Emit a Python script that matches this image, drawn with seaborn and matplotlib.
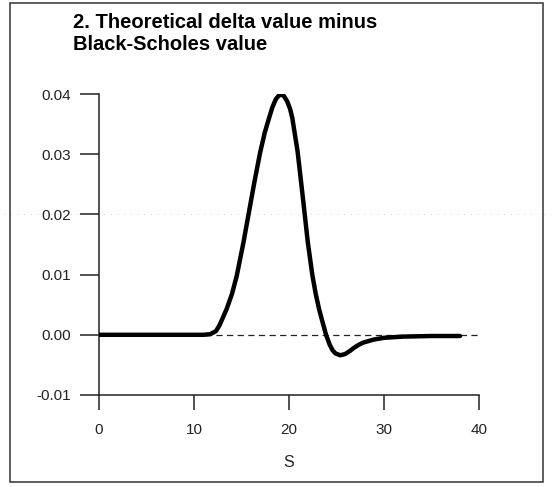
import matplotlib
matplotlib.use("Agg")
import matplotlib.pyplot as plt
import matplotlib.patches as patches
import seaborn as sns
import pandas as pd

# ====================== DATA ======================
s_values = [0, 4, 8, 10, 11, 11.7, 12.3, 12.66, 13.0, 13.44, 14.0, 14.5, 15.2,
            15.97, 16.35, 16.95, 17.45, 17.9, 18.25, 18.6, 18.9, 19.16, 19.45,
            19.8, 20.1, 20.35, 20.9, 21.3, 21.6, 21.97, 22.45, 22.8, 23.16,
            23.55, 23.9, 24.3, 24.6, 24.9, 25.4, 25.9, 26.4, 26.8, 27.3, 27.8,
            28.9, 30, 32, 35, 38]
delta_diff = [0, 0, 0, 0, 0.0, 0.0001, 0.0006, 0.0015, 0.0027, 0.0043, 0.0068,
              0.0098, 0.0153, 0.0220, 0.0253, 0.0302, 0.0336, 0.036, 0.0378,
              0.0391, 0.0397, 0.0399, 0.0397, 0.0388, 0.0376, 0.036, 0.0305,
              0.025, 0.0208, 0.0155, 0.0100, 0.0069, 0.0043, 0.0020, 0.0,
              -0.0017, -0.0026, -0.0031, -0.0034, -0.0032, -0.0027, -0.0022,
              -0.0017, -0.0013, -0.0008, -0.0005, -0.0003, -0.0002, -0.0002]
x_ticks = [0, 10, 20, 30, 40]
y_ticks = [-0.01, 0.00, 0.01, 0.02, 0.03, 0.04]
y_tick_labels = ['-0.01', '0.00', '0.01', '0.02', '0.03', '0.04']
title = "2. Theoretical delta value minus\nBlack-Scholes value"

df = pd.DataFrame({'S': s_values, 'diff': delta_diff})

# ====================== STYLE ======================
sns.set_style('ticks')
plt.rcParams['font.family'] = ['Liberation Sans', 'DejaVu Sans']

W, H = 552, 487
fig = plt.figure(figsize=(W / 100, H / 100), dpi=100)
ax = fig.add_axes([99 / W, 1 - 395 / H, 380 / W, 301 / H])

# zero reference line
ax.plot([0, 40], [0, 0], color='#222222', lw=0.9, ls=(0, (5, 3.5)), zorder=1)

sns.lineplot(data=df, x='S', y='diff', ax=ax, color='black', lw=3.2,
             estimator=None, sort=False, zorder=3,
             solid_joinstyle='round', solid_capstyle='round')

# faint scan fold line
ax.axhline(0.02, xmin=-0.25, xmax=1.19, color='#c8c8c8', lw=0.6,
           ls=(0, (1, 7)), clip_on=False, zorder=0)

ax.set_xlim(0, 40)
ax.set_ylim(-0.01, 0.04)
ax.set_xticks(x_ticks)
ax.set_yticks(y_ticks)
ax.set_yticklabels(y_tick_labels)
ax.set_xlabel('S', fontsize=11.5, labelpad=13, color='#222222')
ax.set_ylabel('')

sns.despine(ax=ax, top=True, right=True)
for sp in ['left', 'bottom']:
    ax.spines[sp].set_linewidth(1.1)
    ax.spines[sp].set_color('#222222')
ax.tick_params(axis='y', direction='out', length=14, width=1.1, pad=6,
               labelsize=11, colors='#222222')
ax.tick_params(axis='x', direction='out', length=11, width=1.1, pad=9,
               labelsize=11, colors='#222222')

fig.text(73 / W, 1 - 13 / H, title, ha='left', va='top', fontsize=14.5,
         fontweight='bold', linespacing=1.2, color='black',
         family=['Liberation Sans', 'DejaVu Sans'])

# outer frame
fig.patches.append(patches.Rectangle((10 / W, 1 - 482 / H), 533 / W, 479 / H,
                                     transform=fig.transFigure, fill=False,
                                     edgecolor='#333333', lw=1.1))

fig.savefig('out.png', dpi=100)
